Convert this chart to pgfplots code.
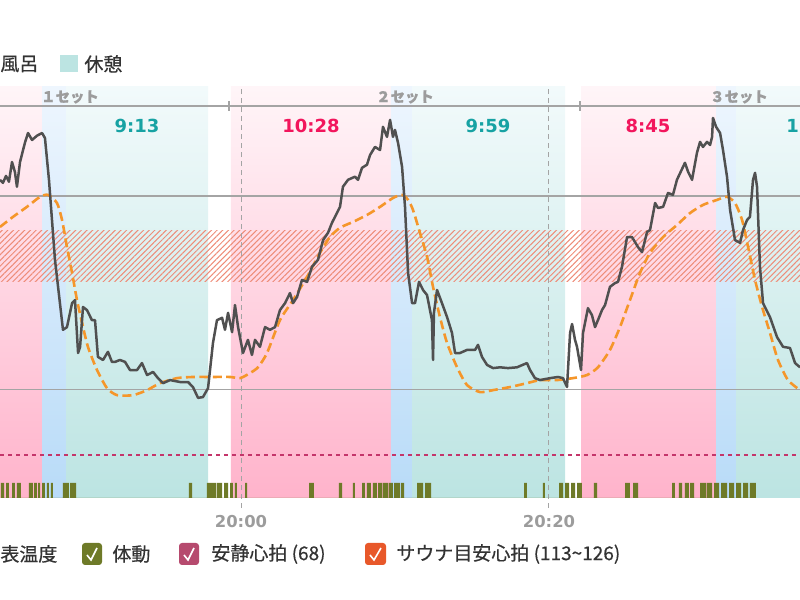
\documentclass[border=0pt]{standalone}
\usepackage{fontspec}
\usepackage{pgfplots}
\pgfplotsset{compat=1.18}
\usetikzlibrary{patterns.meta}
\setmainfont{Noto Sans CJK JP}
\newfontfamily\cjkm{Noto Sans CJK JP}[FakeBold=0.6]
\newfontfamily\dvb{DejaVu Sans}
\definecolor{pinkB}{HTML}{FFB3CB}
\definecolor{pinkT}{HTML}{FFF5F8}
\definecolor{tealB}{HTML}{BCE4E2}
\definecolor{tealT}{HTML}{F2FAFB}
\definecolor{blueB}{HTML}{B8DBF8}
\definecolor{blueT}{HTML}{EEF6FE}
\definecolor{hrC}{HTML}{505050}
\definecolor{estC}{HTML}{F5962A}
\definecolor{oliveC}{HTML}{6E7A28}
\definecolor{restC}{HTML}{C4356A}
\definecolor{chkRest}{HTML}{B64A6E}
\definecolor{chkOr}{HTML}{E8582A}
\definecolor{tealTxt}{HTML}{17A2A3}
\definecolor{redTxt}{HTML}{F2155C}
\definecolor{gridG}{HTML}{A4A4A4}
\definecolor{txtG}{HTML}{9C9C9C}
\definecolor{txtC}{HTML}{333333}
\definecolor{hatchC}{HTML}{EE8C78}
\begin{document}
\begin{tikzpicture}
\begin{axis}[at={(0,0)}, anchor=south west, scale only axis,
  width=400pt, height=205.5pt,
  xmin=44.35, xmax=96.30, ymin=56.9, ymax=163.2, clip=false,
  axis line style={draw=none}, major tick length=0pt,
  ytick=\empty, xtick={60,80}, xticklabels={20:00,20:20},
  xticklabel style={font=\dvb\bfseries\fontsize{8.2}{9}\selectfont, text=txtG, yshift=-5pt}]
% background bands
\addplot[draw=none, top color=pinkT, bottom color=pinkB] coordinates {(44.35,56.9)(44.35,163.2)(47.08,163.2)(47.08,56.9)} -- cycle;
\addplot[draw=none, top color=blueT, bottom color=blueB] coordinates {(47.08,56.9)(47.08,163.2)(48.64,163.2)(48.64,56.9)} -- cycle;
\addplot[draw=none, top color=tealT, bottom color=tealB] coordinates {(48.64,56.9)(48.64,163.2)(57.86,163.2)(57.86,56.9)} -- cycle;
\addplot[draw=none, top color=pinkT, bottom color=pinkB] coordinates {(59.35,56.9)(59.35,163.2)(69.74,163.2)(69.74,56.9)} -- cycle;
\addplot[draw=none, top color=blueT, bottom color=blueB] coordinates {(69.74,56.9)(69.74,163.2)(71.11,163.2)(71.11,56.9)} -- cycle;
\addplot[draw=none, top color=tealT, bottom color=tealB] coordinates {(71.11,56.9)(71.11,163.2)(81.04,163.2)(81.04,56.9)} -- cycle;
\addplot[draw=none, top color=pinkT, bottom color=pinkB] coordinates {(82.08,56.9)(82.08,163.2)(90.85,163.2)(90.85,56.9)} -- cycle;
\addplot[draw=none, top color=blueT, bottom color=blueB] coordinates {(90.85,56.9)(90.85,163.2)(92.15,163.2)(92.15,56.9)} -- cycle;
\addplot[draw=none, top color=tealT, bottom color=tealB] coordinates {(92.15,56.9)(92.15,163.2)(96.30,163.2)(96.30,56.9)} -- cycle;
% sauna target band 113-126
\addplot[draw=none, pattern={Lines[angle=45,distance=2pt,line width=0.5pt]}, pattern color=hatchC, fill opacity=0.45] coordinates {(44.35,113)(44.35,126)(96.30,126)(96.30,113)} -- cycle;
% grid lines
\addplot[gridG, line width=0.7pt] coordinates {(44.35,135)(96.30,135)};
\addplot[gridG, line width=0.7pt] coordinates {(44.35,85)(96.30,85)};
\addplot[gridG, line width=0.8pt] coordinates {(44.35,158.3)(96.30,158.3)};
\addplot[gridG, line width=0.7pt] coordinates {(59.22,159.6)(59.22,157.0)};
\addplot[gridG, line width=0.7pt] coordinates {(82.01,159.6)(82.01,157.0)};
\addplot[gridG, line width=0.5pt, dash pattern=on 2.5pt off 2pt] coordinates {(60,54.3)(60,163.2)};
\addplot[gridG, line width=0.5pt, dash pattern=on 2.5pt off 2pt] coordinates {(80,54.3)(80,163.2)};
% resting heart rate 68
\addplot[restC, line width=1.2pt, dash pattern=on 2pt off 2pt] coordinates {(44.35,68)(96.30,68)};
% body movement
\addplot[fill=oliveC, draw=none] coordinates {
(44.41,56.9)(44.41,60.8)(44.61,60.8)(44.61,56.9)
(44.74,56.9)(44.74,60.8)(44.93,60.8)(44.93,56.9)
(45.13,56.9)(45.13,60.8)(45.32,60.8)(45.32,56.9)
(45.45,56.9)(45.45,60.8)(45.71,60.8)(45.71,56.9)
(46.23,56.9)(46.23,60.8)(46.49,60.8)(46.49,56.9)
(46.56,56.9)(46.56,60.8)(46.75,60.8)(46.75,56.9)
(46.82,56.9)(46.82,60.8)(46.95,60.8)(46.95,56.9)
(47.08,56.9)(47.08,60.8)(47.27,60.8)(47.27,56.9)
(47.40,56.9)(47.40,60.8)(47.53,60.8)(47.53,56.9)
(47.66,56.9)(47.66,60.8)(47.79,60.8)(47.79,56.9)
(48.44,56.9)(48.44,60.8)(48.83,60.8)(48.83,56.9)
(48.90,56.9)(48.90,60.8)(49.29,60.8)(49.29,56.9)
(56.62,56.9)(56.62,60.8)(56.82,60.8)(56.82,56.9)
(57.79,56.9)(57.79,60.8)(58.38,60.8)(58.38,56.9)
(58.44,56.9)(58.44,60.8)(58.77,60.8)(58.77,56.9)
(58.90,56.9)(58.90,60.8)(59.16,60.8)(59.16,56.9)
(59.29,56.9)(59.29,60.8)(59.48,60.8)(59.48,56.9)
(59.61,56.9)(59.61,60.8)(59.74,60.8)(59.74,56.9)
(60.26,56.9)(60.26,60.8)(60.39,60.8)(60.39,56.9)
(64.42,56.9)(64.42,60.8)(64.74,60.8)(64.74,56.9)
(66.36,56.9)(66.36,60.8)(66.56,60.8)(66.56,56.9)
(67.27,56.9)(67.27,60.8)(67.40,60.8)(67.40,56.9)
(67.86,56.9)(67.86,60.8)(68.05,60.8)(68.05,56.9)
(68.18,56.9)(68.18,60.8)(68.44,60.8)(68.44,56.9)
(68.57,56.9)(68.57,60.8)(68.83,60.8)(68.83,56.9)
(68.90,56.9)(68.90,60.8)(69.16,60.8)(69.16,56.9)
(69.22,56.9)(69.22,60.8)(69.55,60.8)(69.55,56.9)
(69.61,56.9)(69.61,60.8)(69.87,60.8)(69.87,56.9)
(69.94,56.9)(69.94,60.8)(70.33,60.8)(70.33,56.9)
(70.39,56.9)(70.39,60.8)(70.59,60.8)(70.59,56.9)
(71.43,56.9)(71.43,60.8)(71.82,60.8)(71.82,56.9)
(71.95,56.9)(71.95,60.8)(72.34,60.8)(72.34,56.9)
(78.38,56.9)(78.38,60.8)(78.57,60.8)(78.57,56.9)
(79.61,56.9)(79.61,60.8)(79.74,60.8)(79.74,56.9)
(80.65,56.9)(80.65,60.8)(80.91,60.8)(80.91,56.9)
(81.04,56.9)(81.04,60.8)(81.30,60.8)(81.30,56.9)
(81.43,56.9)(81.43,60.8)(81.69,60.8)(81.69,56.9)
(81.82,56.9)(81.82,60.8)(82.14,60.8)(82.14,56.9)
(82.92,56.9)(82.92,60.8)(83.12,60.8)(83.12,56.9)
(84.94,56.9)(84.94,60.8)(85.26,60.8)(85.26,56.9)
(85.46,56.9)(85.46,60.8)(85.78,60.8)(85.78,56.9)
(87.99,56.9)(87.99,60.8)(88.18,60.8)(88.18,56.9)
(88.44,56.9)(88.44,60.8)(88.64,60.8)(88.64,56.9)
(88.83,56.9)(88.83,60.8)(89.09,60.8)(89.09,56.9)
(89.16,56.9)(89.16,60.8)(89.42,60.8)(89.42,56.9)
(89.81,56.9)(89.81,60.8)(90.20,60.8)(90.20,56.9)
(90.26,56.9)(90.26,60.8)(90.59,60.8)(90.59,56.9)
(90.72,56.9)(90.72,60.8)(91.04,60.8)(91.04,56.9)
(91.17,56.9)(91.17,60.8)(91.56,60.8)(91.56,56.9)
(91.69,56.9)(91.69,60.8)(92.02,60.8)(92.02,56.9)
(92.15,56.9)(92.15,60.8)(92.47,60.8)(92.47,56.9)
(92.60,56.9)(92.60,60.8)(92.93,60.8)(92.93,56.9)
(93.05,56.9)(93.05,60.8)(93.44,60.8)(93.44,56.9)
} -- cycle;
% sauna guide heart rate (orange dashed)
\addplot[estC, line width=1.3pt, dash pattern=on 4.5pt off 2.2pt, smooth, tension=0.4] coordinates {
(44.35,127.0)(45.19,129.6)(46.10,132.2)(46.95,134.8)(47.47,135.3)(48.05,133.2)(48.38,128.8)(48.70,121.8)(49.03,115.1)(49.35,108.1)(49.68,102.2)(50.06,96.0)(50.65,90.0)(51.30,85.3)(51.95,83.5)(52.99,83.5)(53.90,84.8)(54.74,86.6)(55.84,87.9)(56.88,88.2)(57.99,88.2)(59.29,88.2)(59.94,87.9)(60.58,89.2)(61.10,90.7)(61.69,94.4)(62.53,102.9)(63.38,108.1)(64.29,114.1)(65.13,120.3)(65.78,124.4)(66.43,126.8)(67.27,128.3)(68.18,130.1)(69.03,132.2)(69.87,134.5)(70.46,135.3)(70.85,134.0)(71.17,131.4)(71.62,125.5)(72.08,119.3)(72.47,111.5)(72.92,103.7)(73.38,97.0)(74.03,90.7)(74.68,86.1)(75.52,84.3)(76.37,84.8)(77.47,85.6)(78.57,86.6)(79.42,87.4)(80.52,87.4)(81.56,87.9)(82.47,88.7)(83.18,90.7)(83.96,95.2)(84.61,101.1)(85.26,108.1)(85.91,115.1)(86.56,120.3)(87.41,124.4)(88.31,127.5)(89.16,130.6)(90.00,132.7)(90.91,134.0)(91.56,134.8)(92.08,133.2)(92.54,128.8)(92.93,121.8)(93.38,113.3)(93.84,106.3)(94.35,99.6)(94.87,92.6)(95.52,87.4)(96.30,84.8)};
% heart rate
\addplot[hrC, line width=1.25pt, line join=round] coordinates {
(44.35,139.2)(44.54,138.4)(44.74,140.2)(44.93,138.7)(45.13,143.8)(45.32,141.2)(45.45,137.4)(45.65,143.8)(45.97,148.8)(46.17,151.3)(46.43,149.5)(46.75,150.6)(47.08,151.3)(47.27,150.0)(47.53,139.2)(47.92,118.5)(48.44,100.4)(48.70,101.1)(49.03,107.3)(49.22,108.1)(49.42,94.4)(49.55,96.0)(49.74,106.3)(50.00,105.5)(50.32,102.9)(50.52,102.9)(50.71,93.4)(51.04,92.6)(51.36,94.7)(51.62,92.1)(51.82,92.1)(52.14,92.6)(52.47,92.1)(52.79,90.0)(53.25,90.0)(53.57,91.8)(53.90,88.7)(54.29,89.5)(54.61,87.9)(54.94,86.6)(55.39,87.4)(56.04,86.9)(56.56,86.9)(56.88,85.6)(57.21,82.8)(57.53,83.0)(57.86,85.3)(58.18,97.0)(58.44,102.9)(58.77,103.5)(58.96,100.4)(59.16,104.8)(59.42,99.8)(59.61,106.8)(59.81,101.1)(60.13,94.4)(60.45,97.8)(60.71,93.9)(60.91,97.8)(61.23,96.0)(61.56,101.1)(61.88,100.4)(62.21,101.1)(62.53,105.5)(62.86,107.3)(63.18,109.9)(63.38,107.3)(63.64,108.9)(63.96,113.3)(64.29,112.8)(64.61,116.7)(65.00,118.5)(65.33,123.6)(65.65,125.5)(65.91,128.1)(66.23,130.6)(66.43,132.2)(66.62,137.4)(66.95,139.2)(67.40,140.0)(67.60,139.2)(67.86,142.3)(68.18,143.1)(68.38,145.6)(68.70,147.7)(69.03,146.9)(69.22,152.9)(69.48,150.3)(69.68,154.7)(69.87,150.3)(70.00,152.1)(70.20,148.7)(70.46,142.5)(70.65,132.2)(70.85,115.1)(71.11,107.3)(71.30,107.3)(71.56,112.8)(71.82,110.7)(72.08,109.4)(72.40,102.9)(72.47,92.6)(72.53,104.8)(72.73,110.7)(73.05,107.3)(73.38,103.7)(73.70,99.6)(73.90,94.4)(74.22,94.4)(74.68,95.2)(75.20,95.2)(75.39,96.5)(75.65,93.4)(75.98,91.3)(76.37,90.5)(76.82,90.7)(77.34,90.5)(77.92,90.7)(78.57,91.8)(78.77,90.0)(79.09,87.9)(79.42,87.4)(80.07,87.9)(80.59,88.2)(80.91,87.9)(81.17,85.6)(81.37,99.6)(81.50,101.9)(81.69,97.8)(81.82,96.0)(82.08,90.0)(82.21,99.6)(82.53,106.0)(82.79,104.2)(82.99,101.1)(83.18,102.9)(83.44,105.5)(83.64,106.8)(83.96,111.5)(84.29,112.5)(84.48,112.8)(84.74,116.7)(85.07,124.4)(85.39,124.4)(85.78,121.8)(86.04,120.5)(86.37,125.7)(86.56,126.2)(86.89,133.2)(87.08,131.9)(87.41,132.2)(87.73,135.8)(88.05,135.3)(88.31,139.2)(88.83,143.6)(89.03,141.3)(89.29,139.2)(89.61,146.2)(89.81,149.0)(90.00,147.7)(90.26,149.0)(90.46,148.2)(90.59,150.3)(90.65,155.2)(90.85,152.9)(91.11,151.3)(91.30,146.9)(91.56,140.0)(91.76,131.4)(92.08,123.6)(92.41,122.9)(92.60,126.2)(92.86,128.8)(93.05,129.6)(93.25,139.2)(93.38,141.0)(93.51,137.4)(93.70,116.7)(93.90,107.3)(94.35,103.7)(94.81,98.5)(95.20,96.0)(95.65,95.7)(95.98,91.8)(96.30,90.7)};
\end{axis}
% texts, in pixel units (origin top-left of the 800x600 page)
\begin{scope}[x=0.5pt, y=-0.5pt, shift={(0pt,249pt)}]
\cjkm\fontsize{9.5}{11}\selectfont
% top legend
\node[anchor=west, inner sep=0, text=txtC] at (0,64) {風呂};
\fill[tealB] (60,55) rectangle (78,72);
\node[anchor=west, inner sep=0, text=txtC] at (84,64) {休憩};
% set labels
\node[text=txtG, font=\bfseries\fontsize{7.2}{8}\selectfont] at (70,97) {１セット};
\node[text=txtG, font=\bfseries\fontsize{7.2}{8}\selectfont] at (405,97) {２セット};
\node[text=txtG, font=\bfseries\fontsize{7.2}{8}\selectfont] at (739,97) {３セット};
% durations
\node[text=tealTxt, font=\dvb\bfseries\fontsize{9}{10}\selectfont] at (137,126) {9:13};
\node[text=redTxt, font=\dvb\bfseries\fontsize{9}{10}\selectfont] at (311,126) {10:28};
\node[text=tealTxt, font=\dvb\bfseries\fontsize{9}{10}\selectfont] at (488,126) {9:59};
\node[text=redTxt, font=\dvb\bfseries\fontsize{9}{10}\selectfont] at (648,126) {8:45};
\node[anchor=west, inner sep=0, text=tealTxt, font=\dvb\bfseries\fontsize{9}{10}\selectfont] at (786,126) {1};
% bottom legend
\node[anchor=west, inner sep=0, text=txtC] at (0,554) {表温度};
\fill[oliveC, rounded corners=1.5pt] (82,543) rectangle (102,565);
\draw[white, line width=0.8pt] (87,555) -- (91,560) -- (97,548);
\node[anchor=west, inner sep=0, text=txtC] at (112,554) {体動};
\fill[chkRest, rounded corners=1.5pt] (179,543) rectangle (199,565);
\draw[white, line width=0.8pt] (184,555) -- (188,560) -- (194,548);
\node[anchor=west, inner sep=0, text=txtC] at (211,554) {安静心拍 (68)};
\fill[chkOr, rounded corners=1.5pt] (365,543) rectangle (386,565);
\draw[white, line width=0.8pt] (370,555) -- (374,560) -- (381,548);
\node[anchor=west, inner sep=0, text=txtC] at (396,554) {サウナ目安心拍 (113\textasciitilde126)};
\pgfresetboundingbox
\useasboundingbox (0,0) rectangle (800,600);
\end{scope}
\end{tikzpicture}
\end{document}
